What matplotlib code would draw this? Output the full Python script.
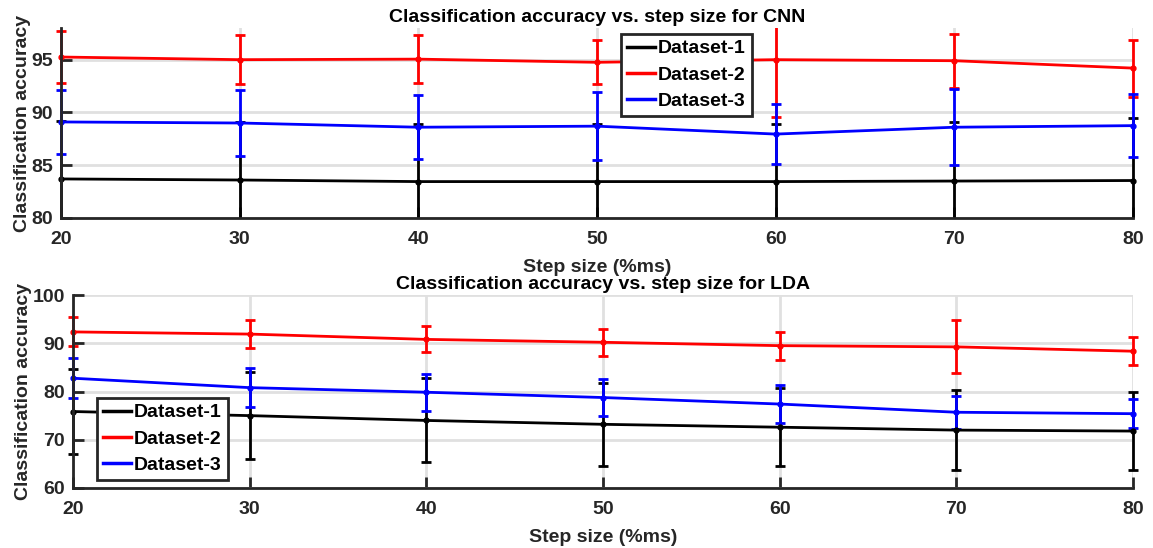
import matplotlib

matplotlib.use("Agg")
import matplotlib.pyplot as plt  # noqa: E402
from matplotlib.lines import Line2D  # noqa: E402
from matplotlib.transforms import Bbox, TransformedBbox  # noqa: E402

step_size = [20, 30, 40, 50, 60, 70, 80]
labels = ["Dataset-1", "Dataset-2", "Dataset-3"]
colors = ["black", "#ff0000", "#0000ff"]

# CNN: mean accuracy and error per dataset
cnn_mean = [
    [83.7, 83.6, 83.45, 83.45, 83.45, 83.5, 83.55],
    [95.25, 95.0, 95.05, 94.75, 95.0, 94.9, 94.2],
    [89.1, 89.0, 88.6, 88.7, 87.95, 88.6, 88.75],
]
cnn_err = [
    [5.5, 5.5, 5.5, 5.5, 5.5, 5.6, 5.9],
    [2.5, 2.35, 2.3, 2.1, 5.45, 2.55, 2.7],
    [3.05, 3.1, 3.05, 3.25, 2.85, 3.6, 3.0],
]

# LDA
lda_mean = [
    [75.85, 75.0, 74.0, 73.2, 72.6, 72.0, 71.8],
    [92.35, 91.9, 90.8, 90.2, 89.5, 89.25, 88.35],
    [82.75, 80.8, 79.85, 78.75, 77.4, 75.7, 75.4],
]
lda_err = [
    [8.9, 9.0, 8.7, 8.6, 8.1, 8.3, 8.1],
    [3.0, 2.95, 2.7, 2.85, 2.9, 5.5, 2.9],
    [4.15, 4.0, 3.8, 3.8, 3.85, 3.45, 3.05],
]

plt.rcParams["font.family"] = ["Liberation Sans", "DejaVu Sans"]
plt.rcParams["font.weight"] = "bold"

W, H = 1153, 548
fig = plt.figure(figsize=(W / 100, H / 100), dpi=100)
dark = "#262626"
FS = 14


def panel(rect, means, errs, ylim, yticks, title, leg_anchor):
    ax = fig.add_axes(rect)
    # clip vertically at the axes, but let caps/markers at the x limits show whole
    clip = TransformedBbox(Bbox([[-0.02, 0], [1.02, 1]]), ax.transAxes)
    for m, e, c in zip(means, errs, colors):
        line, caps, bars = ax.errorbar(step_size, m, yerr=e, color=c, lw=2, marker="o",
                                       ms=3.5, capsize=3.5, capthick=2, elinewidth=2)
        for a in [line, *caps, *bars]:
            a.set_clip_box(clip)
            a.set_clip_path(None)
    ax.set_xlim(20, 80)
    ax.set_ylim(*ylim)
    ax.set_xticks(step_size)
    ax.set_yticks(yticks)
    ax.grid(True, color="#e0e0e0", lw=2)
    ax.set_axisbelow(True)
    for s in ["top", "right"]:
        ax.spines[s].set_visible(False)
    for s in ["left", "bottom"]:
        ax.spines[s].set_color(dark)
        ax.spines[s].set_linewidth(2)
    ax.tick_params(direction="in", length=8, width=2, color=dark,
                   labelcolor=dark, labelsize=FS)
    ax.tick_params(axis="x", pad=9)
    ax.tick_params(axis="y", pad=6)
    for t in ax.get_xticklabels() + ax.get_yticklabels():
        t.set_fontweight("bold")
    ax.set_title(title, fontsize=FS, fontweight="bold", pad=4)
    ax.set_xlabel("Step size (%ms)", fontsize=FS, fontweight="bold", color=dark, labelpad=8)
    ax.set_ylabel("Classification accuracy", fontsize=FS, fontweight="bold", color=dark,
                  labelpad=0)
    handles = [Line2D([], [], color=c, lw=2.5) for c in colors]
    leg = ax.legend(handles, labels, loc="upper left", bbox_to_anchor=leg_anchor,
                    bbox_transform=fig.transFigure, fancybox=False,
                    edgecolor=dark, framealpha=1, fontsize=FS,
                    handlelength=1.45, handletextpad=0.15, borderpad=0.3,
                    labelspacing=0.45, borderaxespad=0)
    leg.get_frame().set_linewidth(2)
    for t in leg.get_texts():
        t.set_fontweight("bold")
    return ax


panel([61 / W, 1 - 218 / H, (1133 - 61) / W, (218 - 28) / H],
      cnn_mean, cnn_err, (80, 98), [80, 85, 90, 95],
      "Classification accuracy vs. step size for CNN", (621 / W, 1 - 34 / H))
panel([73 / W, 1 - 488 / H, (1133 - 73) / W, (488 - 295) / H],
      lda_mean, lda_err, (60, 100), [60, 70, 80, 90, 100],
      "Classification accuracy vs. step size for LDA", (97 / W, 1 - 398 / H))

fig.savefig("out.png", dpi=100)
